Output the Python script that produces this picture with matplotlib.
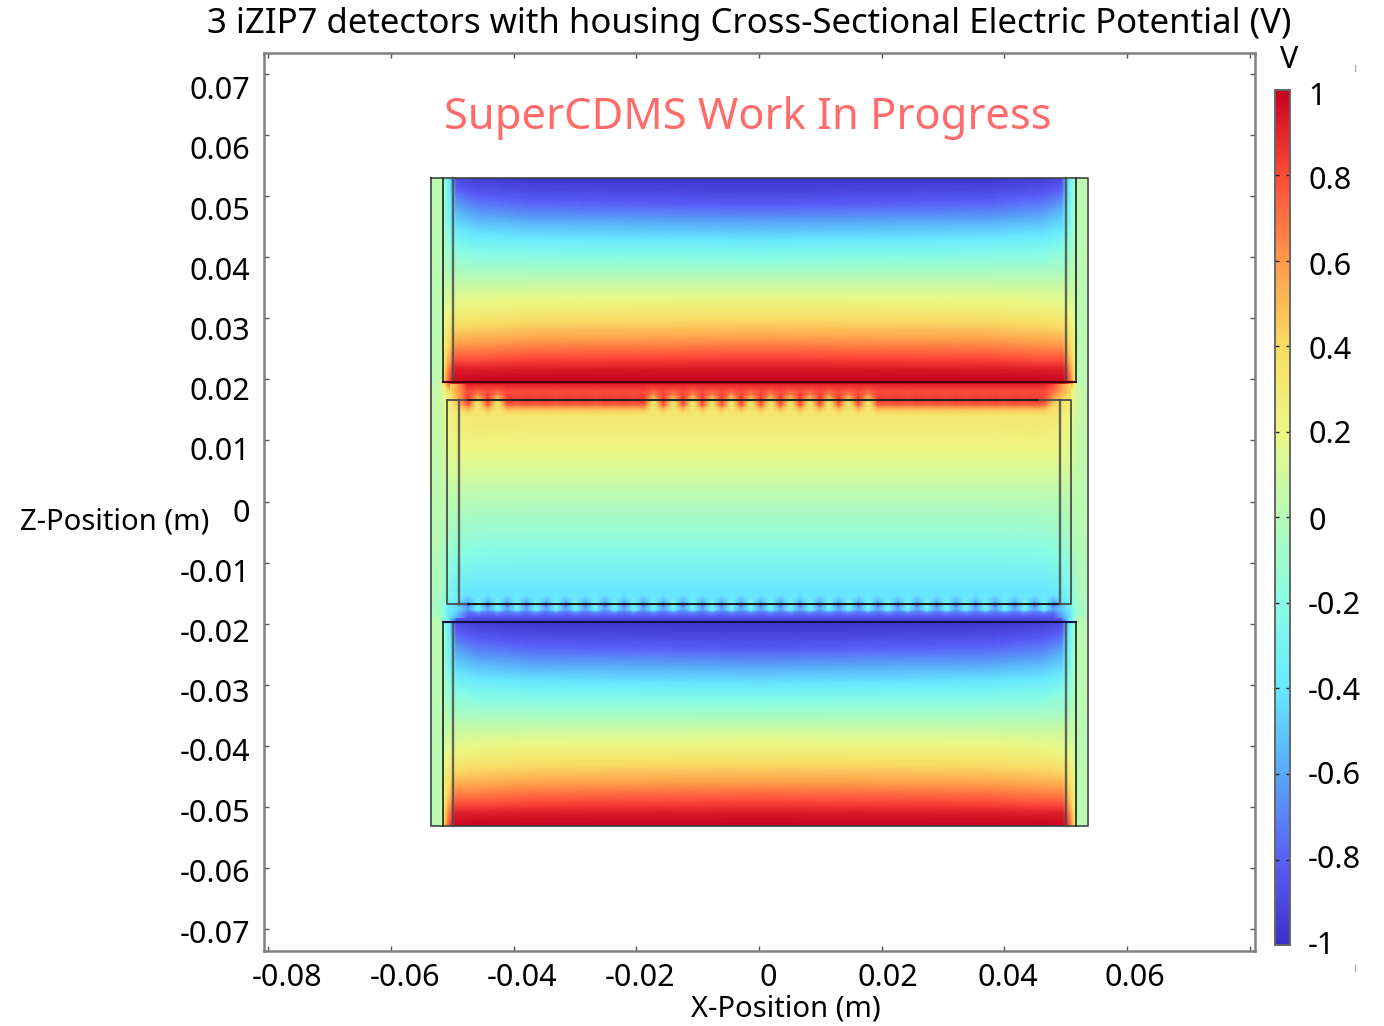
import numpy as np
import matplotlib
matplotlib.use("Agg")
import matplotlib.pyplot as plt
from matplotlib.colors import LinearSegmentedColormap, Normalize
from matplotlib.cm import ScalarMappable
from matplotlib.lines import Line2D

W, H = 1384, 1026
plt.rcParams['font.family'] = ['Noto Sans', 'DejaVu Sans']

# colour bar, 1 V down to -1 V
cbar_values = [-1, -0.8, -0.6, -0.4, -0.2, 0, 0.2, 0.4, 0.6, 0.8, 1]
cbar_colors = ['#3a30c8', '#5a60f8', '#58a8f8', '#68e8ff', '#88fce4', '#b4fab8',
               '#ecf884', '#f8dc64', '#ff9b4a', '#ff4a3a', '#c8001e']
cbar_labels = ['-1', '-0.8', '-0.6', '-0.4', '-0.2', '0', '0.2', '0.4', '0.6', '0.8', '1']
cbar_label_py = [943, 857, 773, 689, 603, 519, 432, 348, 264, 178, 94]

x_ticks = [-0.08, -0.06, -0.04, -0.02, 0, 0.02, 0.04, 0.06, 0.08]
x_labels = ['-0.08', '-0.06', '-0.04', '-0.02', '0', '0.02', '0.04', '0.06']
x_label_px = [287, 405, 522, 640, 768, 888, 1008, 1135]
z_ticks = [0.07, 0.06, 0.05, 0.04, 0.03, 0.02, 0.01, 0, -0.01, -0.02, -0.03, -0.04, -0.05, -0.06, -0.07]
z_labels = ['0.07', '0.06', '0.05', '0.04', '0.03', '0.02', '0.01', '0', '-0.01', '-0.02',
            '-0.03', '-0.04', '-0.05', '-0.06', '-0.07']
z_label_py = [88, 148, 209, 269, 329, 389, 449, 511, 571, 631, 691, 750, 811, 871, 932]

# half of the section, mirrored about x = 0
half_x = [-0.05346, -0.05183, -0.05151, -0.05069, -0.05004, -0.04939, -0.04629, -0.03733, 0.0]

det_z = [0.05297, 0.05101, 0.04855, 0.04527, 0.04118, 0.03627, 0.03136, 0.02726, 0.02399, 0.02153, 0.01957]
det_v = [
    [0.02, 0.02, -0.15, -0.35, -0.62, -0.90, -0.95, -0.98, -0.98],
    [0.02, 0.02, -0.12, -0.33, -0.55, -0.80, -0.86, -0.90, -0.92],
    [0.02, 0.02, -0.10, -0.30, -0.45, -0.62, -0.72, -0.78, -0.82],
    [0.02, 0.02, -0.08, -0.25, -0.38, -0.44, -0.50, -0.55, -0.58],
    [0.02, 0.02, -0.05, -0.12, -0.18, -0.20, -0.25, -0.27, -0.30],
    [0.02, 0.02, 0.05, 0.02, 0.02, 0.03, 0.03, 0.03, 0.03],
    [0.02, 0.02, 0.12, 0.18, 0.20, 0.22, 0.25, 0.28, 0.30],
    [0.02, 0.02, 0.20, 0.33, 0.42, 0.48, 0.50, 0.53, 0.55],
    [0.02, 0.02, 0.25, 0.45, 0.60, 0.72, 0.72, 0.76, 0.78],
    [0.02, 0.02, 0.28, 0.60, 0.80, 0.92, 0.92, 0.93, 0.94],
    [0.02, 0.02, 0.30, 0.70, 0.90, 0.98, 1.00, 1.00, 1.00],
]

mid_z = [0.01809, 0.01662, 0.01400, 0.01007, 0.00516, 0.00025, -0.00467, -0.00958, -0.01367, -0.01564, -0.01678, -0.01825]
mid_v = [
    [0.05, 0.08, 0.12, 0.35, 0.50, 0.60, 0.75, 0.80, 0.80],
    [0.05, 0.08, 0.12, 0.28, 0.30, 0.33, 0.50, 0.60, 0.60],
    [0.05, 0.07, 0.10, 0.22, 0.24, 0.28, 0.31, 0.31, 0.31],
    [0.04, 0.06, 0.08, 0.18, 0.20, 0.22, 0.25, 0.24, 0.24],
    [0.03, 0.05, 0.06, 0.11, 0.12, 0.13, 0.13, 0.13, 0.13],
    [0.02, 0.03, 0.03, 0.02, 0.02, 0.01, 0.00, 0.00, 0.00],
    [0.02, 0.00, 0.00, -0.03, -0.06, -0.08, -0.11, -0.12, -0.12],
    [0.01, -0.03, -0.05, -0.15, -0.18, -0.22, -0.25, -0.27, -0.27],
    [0.00, -0.05, -0.08, -0.22, -0.28, -0.33, -0.38, -0.38, -0.38],
    [0.00, -0.08, -0.12, -0.30, -0.35, -0.40, -0.42, -0.42, -0.42],
    [-0.02, -0.10, -0.15, -0.35, -0.40, -0.45, -0.50, -0.50, -0.50],
    [-0.02, -0.12, -0.20, -0.40, -0.60, -0.70, -0.80, -0.80, -0.80],
]

# electrode positions along the faces of the middle detector
electrode_x = [-0.0474, -0.0442, -0.0410, -0.0379, -0.0347, -0.0315, -0.0283, -0.0251, -0.0220, -0.0188,
               -0.0156, -0.0124, -0.0092, -0.0061, -0.0029, 0.0003, 0.0035, 0.0067, 0.0099, 0.0130,
               0.0162, 0.0194, 0.0226, 0.0258, 0.0290, 0.0321, 0.0353, 0.0385, 0.0417, 0.0449, 0.0480]
# 1 where the top face shows a bright gap after that electrode
top_gap_open = [1, 1, 0, 0, 0, 0, 0, 0, 0, 1, 1, 1, 1, 1, 1, 1, 1, 1, 1, 1, 1, 0, 0, 0, 0, 0, 0, 0, 0, 0]

strip_edge_x = [-0.05020, 0.05070]

top_strip_z = [0.01924, 0.01809, 0.01727, 0.01662, 0.01596, 0.01514, 0.01400]
top_on = [0.90, 0.80, 0.82, 0.86, 0.76, 0.50, 0.31]
top_closed = [0.90, 0.79, 0.80, 0.84, 0.73, 0.48, 0.32]
top_open = [0.90, 0.72, 0.55, 0.30, 0.28, 0.33, 0.31]
top_last = [0.80, 0.70, 0.60, 0.50, 0.42, 0.38, 0.32]
top_edge = [0.40, 0.42, 0.36, 0.30, 0.28, 0.26, 0.24]

bot_strip_z = [-0.01482, -0.01596, -0.01662, -0.01678, -0.01760, -0.01825, -0.01907]
bot_on = [-0.40, -0.52, -0.70, -0.90, -0.62, -0.78, -0.88]
bot_off = [-0.40, -0.38, -0.30, -0.35, -0.36, -0.72, -0.88]
bot_edge = [-0.26, -0.30, -0.33, -0.35, -0.37, -0.40, -0.45]

det_shift = -0.0727  # bottom detector sits this far below the top one


def px_text(fig, px, py, s, size=22, ha='center', color='black'):
    fig.text(px / W, 1 - (py + 3) / H, s, fontsize=size, ha=ha, va='center', color=color)


def strip_nodes(on, gaps, edge, last=None):
    # columns: edge, electrode, gap, electrode, ... , edge
    xs = [strip_edge_x[0]]
    cols = [edge]
    for i, ex in enumerate(electrode_x):
        xs.append(ex)
        cols.append(last if (last is not None and i == len(electrode_x) - 1) else on)
        if i < len(electrode_x) - 1:
            xs.append((ex + electrode_x[i + 1]) / 2)
            cols.append(gaps[i])
    xs.append(strip_edge_x[1])
    cols.append(edge)
    return np.array(xs), np.column_stack(cols)


cmap = LinearSegmentedColormap.from_list(
    'potential', [((v + 1) / 2, c) for v, c in zip(cbar_values, cbar_colors)], N=512)
norm = Normalize(-1, 1)
levels = np.linspace(-1.02, 1.02, 257)

fig = plt.figure(figsize=(W / 100, H / 100), dpi=100)
ax = fig.add_axes([264 / W, 1 - 951 / H, (1255 - 264) / W, (951 - 53) / H])

# main field
full_x = np.array(half_x + [-v for v in half_x[-2::-1]])
rows = np.vstack([det_v, mid_v, det_v])
full_v = np.hstack([rows, rows[:, -2::-1]])
full_z = np.concatenate([det_z, mid_z, np.array(det_z) + det_shift])
ax.contourf(full_x, full_z, full_v, levels=levels, cmap=cmap, norm=norm, antialiased=False)

# electrode strips on the middle detector
gaps = [top_open if g else top_closed for g in top_gap_open]
sx, sv = strip_nodes(top_on, gaps, top_edge, last=top_last)
ax.contourf(sx, top_strip_z, sv, levels=levels, cmap=cmap, norm=norm, antialiased=False)
gaps = [bot_off] * (len(electrode_x) - 1)
sx, sv = strip_nodes(bot_on, gaps, bot_edge)
ax.contourf(sx, bot_strip_z, sv, levels=levels, cmap=cmap, norm=norm, antialiased=False)

# outlines
dark = '#26332a'
soft = '#4a4f48'
lw = 1.3
ax.plot([-0.05346, 0.05363, 0.05363, -0.05346, -0.05346],
        [0.05297, 0.05297, -0.05314, -0.05314, 0.05297], color='#3a3f3a', lw=1.15)
for x1, x2 in [(-0.05151, 0.05167)]:
    ax.plot([x1, x1, x2, x2], [0.05297, 0.01957, 0.01957, 0.05297], color=dark, lw=lw)
    ax.plot([x1, x1, x2, x2], [-0.05314, -0.01973, -0.01973, -0.05314], color=dark, lw=lw)
for x in [-0.04988, 0.05004]:
    ax.plot([x, x], [0.05297, 0.01957], color=soft, lw=lw + 0.4, alpha=0.85)
    ax.plot([x, x], [-0.05314, -0.01973], color=soft, lw=lw + 0.4, alpha=0.85)
ax.plot([-0.05086, 0.05086, 0.05086, -0.05086, -0.05086],
        [0.01662, 0.01662, -0.01678, -0.01678, 0.01662], color=soft, lw=lw)
ax.plot([-0.0474, 0.0455], [0.01662, 0.01662], color='#1c1c14', lw=1.15)
ax.plot([-0.0474, 0.0490], [-0.01678, -0.01678], color='#101828', lw=1.3)
for x in [-0.04890, 0.04906]:
    ax.plot([x, x], [0.01662, -0.01678], color=soft, lw=lw + 0.4, alpha=0.85)
ax.plot([-0.05151, 0.05167], [0.01957, 0.01957], color='#4a0008', lw=lw + 0.2)
ax.plot([-0.05151, 0.05167], [-0.01973, -0.01973], color='#14104a', lw=lw + 0.2)

ax.set_xlim(-0.08068, 0.08085)
ax.set_ylim(-0.0736, 0.07344)
ax.set_xticks(x_ticks)
ax.set_yticks(z_ticks)
ax.tick_params(direction='in', top=True, right=True, length=3.5, width=1, color='#555555',
               labelleft=False, labelbottom=False)
for s in ax.spines.values():
    s.set_color('#808080')
    s.set_linewidth(1.8)

# colour bar
cax = fig.add_axes([1275 / W, 1 - 945 / H, 15 / W, 855 / H])
cb = fig.colorbar(ScalarMappable(norm=norm, cmap=cmap), cax=cax)
cb.set_ticks(cbar_values[1:-1])
cax.tick_params(direction='in', left=True, right=True, length=3, width=1, color='#222222', labelright=False)
cb.outline.set_edgecolor('#666666')
cb.outline.set_linewidth(1.4)

# the axis numbers do not sit on their ticks in the reference
for s, px in zip(x_labels, x_label_px):
    px_text(fig, px, 975, s)
for s, py in zip(z_labels, z_label_py):
    px_text(fig, 250, py, s, ha='right')
for s, py in zip(cbar_labels, cbar_label_py):
    px_text(fig, 1308, py, s, ha='left')

px_text(fig, 749, 21, '3 iZIP7 detectors with housing Cross-Sectional Electric Potential (V)', size=25)
px_text(fig, 748, 115, 'SuperCDMS Work In Progress', size=31.3, color='#ff6b6b')
px_text(fig, 115, 519, 'Z-Position (m)', size=21)
px_text(fig, 786, 1006, 'X-Position (m)', size=21)
px_text(fig, 1289, 57, 'V')

# small stray marks at the right of the picture
for py in [(65, 71), (965, 971)]:
    fig.add_artist(Line2D([1355 / W, 1355 / W], [1 - py[0] / H, 1 - py[1] / H], color='#b0b0b0', lw=1))

fig.savefig('out.png', dpi=100)
